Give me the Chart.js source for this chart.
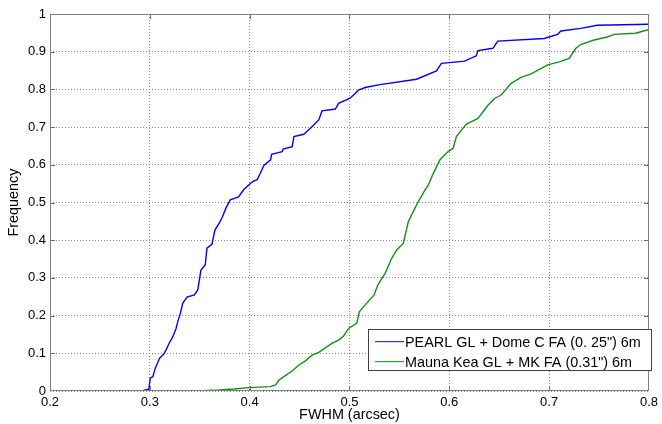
<!DOCTYPE html>
<html>
<head>
<meta charset="utf-8">
<script src="https://cdn.jsdelivr.net/npm/chart.js@4/dist/chart.umd.min.js"></script>
<style>
html,body{margin:0;padding:0;background:#fff;}
#wrap{width:662px;height:424px;}
</style>
</head>
<body>
<div id="wrap"><canvas id="c" width="662" height="424"></canvas></div>
<script>
// ---- data ----
const seriesNames = ['PEARL GL + Dome C FA (0. 25") 6m', 'Mauna Kea GL + MK FA (0.31") 6m'];
const xTicks = [0.2, 0.3, 0.4, 0.5, 0.6, 0.7, 0.8];
const yTicks = [0, 0.1, 0.2, 0.3, 0.4, 0.5, 0.6, 0.7, 0.8, 0.9, 1];
const xLabel = 'FWHM (arcsec)';
const yLabel = 'Frequency';

const pearlX = [0.2914,0.299,0.3004,0.303,0.3054,0.3097,0.314,0.3163,0.3196,0.323,0.3263,0.328,0.3306,0.333,0.3373,0.3446,0.348,0.3496,0.3512,0.3555,0.3572,0.3622,0.3652,0.3695,0.3728,0.3762,0.3805,0.3888,0.3944,0.4027,0.4077,0.4144,0.421,0.422,0.4326,0.4336,0.4426,0.4443,0.4542,0.4609,0.4692,0.4725,0.4858,0.4891,0.5001,0.5041,0.509,0.5158,0.529,0.5672,0.5871,0.5921,0.6154,0.627,0.6287,0.6437,0.6486,0.6952,0.7085,0.7118,0.7317,0.7483,0.80];
const pearlY = [0,0.0045,0.034,0.038,0.060,0.0867,0.098,0.109,0.128,0.144,0.166,0.184,0.206,0.233,0.249,0.255,0.268,0.294,0.321,0.334,0.379,0.389,0.427,0.445,0.462,0.485,0.507,0.515,0.535,0.555,0.561,0.599,0.613,0.628,0.635,0.642,0.648,0.675,0.681,0.697,0.719,0.743,0.748,0.763,0.776,0.785,0.798,0.805,0.812,0.827,0.849,0.869,0.875,0.889,0.903,0.909,0.928,0.935,0.946,0.955,0.962,0.970,0.973];

const maunaX = [0.3446,0.3695,0.3845,0.3994,0.421,0.426,0.4293,0.4343,0.4426,0.4493,0.4559,0.4625,0.4692,0.4775,0.4825,0.4891,0.4941,0.4991,0.5074,0.5098,0.5173,0.5247,0.5283,0.5357,0.5423,0.5473,0.554,0.5589,0.5656,0.5689,0.5756,0.5789,0.5832,0.5856,0.5905,0.5988,0.6038,0.6071,0.6121,0.6171,0.6287,0.6387,0.6453,0.652,0.6619,0.6719,0.6819,0.6985,0.7102,0.7201,0.7268,0.7317,0.745,0.7583,0.765,0.7866,0.80];
const maunaY = [0,0.0027,0.0053,0.009,0.0115,0.016,0.029,0.038,0.053,0.069,0.080,0.095,0.1025,0.1175,0.1265,0.135,0.146,0.166,0.180,0.210,0.233,0.255,0.281,0.312,0.352,0.374,0.392,0.449,0.485,0.502,0.533,0.546,0.573,0.586,0.613,0.635,0.644,0.675,0.692,0.708,0.723,0.758,0.776,0.785,0.816,0.832,0.841,0.865,0.873,0.882,0.909,0.919,0.931,0.939,0.946,0.949,0.959];

// ---- styles ----
const FONT = 'Liberation Sans, Arial, Helvetica, sans-serif';
const seriesColors = ['#0000ff', '#168f16'];
const legendColors = ['#3030ff', '#2aa82a'];
const toPts = (xs, ys) => xs.map((x, i) => ({x: x, y: ys[i]}));
const fmt = v => String(Math.round(v * 10) / 10);

const framePlugin = {
  id: 'frame',
  afterDatasetsDraw(chart) {
    const ctx = chart.ctx, a = chart.chartArea;
    const xs = chart.scales.x, ys = chart.scales.y;
    ctx.save();
    ctx.setLineDash([]);
    ctx.strokeStyle = '#6e6e6e';
    ctx.lineWidth = 1;
    // inward ticks
    ctx.beginPath();
    xTicks.slice(1, -1).forEach(v => {
      const px = Math.round(xs.getPixelForValue(v)) + 0.5;
      ctx.moveTo(px, a.bottom); ctx.lineTo(px, a.bottom - 5);
      ctx.moveTo(px, a.top); ctx.lineTo(px, a.top + 5);
    });
    yTicks.slice(1, -1).forEach(v => {
      const py = Math.round(ys.getPixelForValue(v)) + 0.5;
      ctx.moveTo(a.left, py); ctx.lineTo(a.left + 5, py);
      ctx.moveTo(a.right, py); ctx.lineTo(a.right - 5, py);
    });
    ctx.stroke();
    // box
    ctx.strokeStyle = '#808080';
    ctx.strokeRect(Math.round(a.left) + 0.5, Math.round(a.top) + 0.5,
                   Math.round(a.right - a.left) - 1, Math.round(a.bottom - a.top) - 1);
    // legend (inside, bottom right)
    const lx = 368.5, ly = 329.5, lw = 283, lh = 41;
    ctx.fillStyle = '#ffffff';
    ctx.fillRect(lx, ly, lw, lh);
    ctx.strokeStyle = '#404040';
    ctx.strokeRect(lx, ly, lw, lh);
    ctx.font = '14.4px ' + FONT;
    ctx.textBaseline = 'alphabetic';
    ctx.textAlign = 'left';
    chart.data.datasets.forEach((ds, i) => {
      const yy = Math.round(341 + i * 19.5);
      ctx.fillStyle = legendColors[i];
      ctx.fillRect(375, yy, 29, 1.2);
      ctx.fillStyle = '#000000';
      ctx.fillText(ds.label, 405, yy + 5.5);
    });
    ctx.restore();
  }
};

new Chart(document.getElementById('c'), {
  type: 'line',
  data: {
    datasets: [
      {label: seriesNames[0], data: toPts(pearlX, pearlY), borderColor: seriesColors[0], borderWidth: 1.4, pointRadius: 0, tension: 0, fill: false},
      {label: seriesNames[1], data: toPts(maunaX, maunaY), borderColor: seriesColors[1], borderWidth: 1.4, pointRadius: 0, tension: 0, fill: false}
    ]
  },
  options: {
    responsive: false,
    animation: false,
    devicePixelRatio: 1,
    layout: {padding: {left: 0, top: 14, right: 10, bottom: 0}},
    plugins: {legend: {display: false}, tooltip: {enabled: false}},
    scales: {
      x: {
        type: 'linear', min: 0.2, max: 0.8,
        afterBuildTicks: s => { s.ticks = xTicks.map(v => ({value: v})); },
        afterFit: s => { s.height = 33; },
        ticks: {callback: v => fmt(v), color: '#000', font: {family: FONT, size: 13}, padding: 4, maxRotation: 0, autoSkip: false},
        grid: {color: '#8a8a8a', lineWidth: 1, drawTicks: false},
        border: {display: false, dash: [1, 2]},
        title: {display: true, text: xLabel, color: '#000', font: {family: FONT, size: 14.4}, padding: {top: 0, bottom: 0}}
      },
      y: {
        type: 'linear', min: 0, max: 1,
        afterBuildTicks: s => { s.ticks = yTicks.map(v => ({value: v})); },
        afterFit: s => { s.width = 50; },
        ticks: {callback: v => fmt(v), color: '#000', font: {family: FONT, size: 13}, padding: 4, autoSkip: false},
        grid: {color: '#8a8a8a', lineWidth: 1, drawTicks: false},
        border: {display: false, dash: [1, 2]},
        title: {display: true, text: yLabel, color: '#000', font: {family: FONT, size: 14.4}, padding: {top: 5, bottom: 0}}
      }
    }
  },
  plugins: [framePlugin]
});
</script>
</body>
</html>
